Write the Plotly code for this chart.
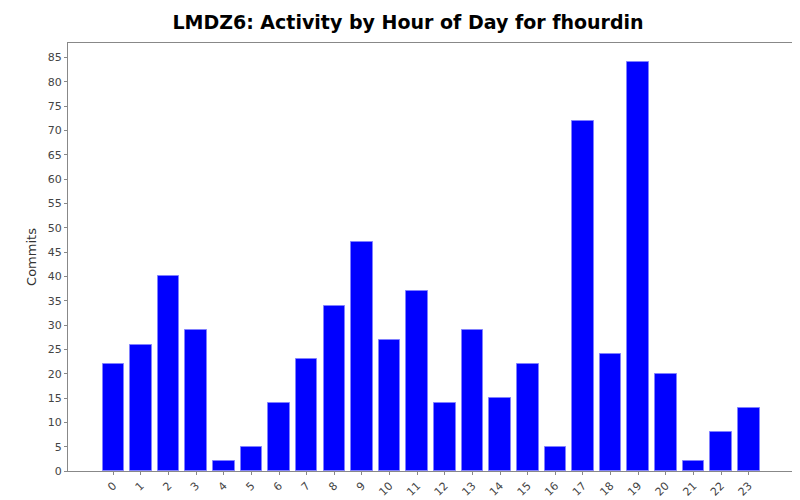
import plotly.graph_objects as go

hours = [str(h) for h in range(24)]
commits = [22, 26, 40, 29, 2, 5, 14, 23, 34, 47, 27, 37, 14, 29, 15, 22, 5, 72, 24, 84, 20, 2, 8, 13]

fig = go.Figure(go.Bar(
    x=list(range(24)), y=commits, width=0.78,
    marker=dict(color="#0000ff", line=dict(color="#8080ff", width=1)),
))
fig.update_layout(
    width=800, height=500,
    paper_bgcolor="white", plot_bgcolor="white",
    margin=dict(l=60, r=12, t=35, b=37, autoexpand=False),
    title=dict(text="<b>LMDZ6: Activity by Hour of Day for fhourdin</b>", x=0.5, y=0.972,
               xanchor="center", yanchor="middle", font=dict(family="DejaVu Sans", size=19, color="black")),
    font=dict(family="DejaVu Sans", size=11, color="#444"),
    showlegend=False, bargap=0,
)
fig.update_xaxes(range=[-1.64, 24.71], tickvals=list(range(24)), ticktext=hours, automargin=False,
                 tickangle=-45, showgrid=False, showline=True, linecolor="#888", mirror=True,
                 ticks="outside", ticklen=3, tickcolor="#888", zeroline=False)
fig.update_yaxes(range=[0, 88], dtick=5, automargin=False,
                 title=dict(text="Commits", font=dict(size=13, color="#333"), standoff=8),
                 showgrid=False, showline=True, linecolor="#888", mirror=True,
                 ticks="outside", ticklen=3, tickcolor="#888", zeroline=False)
fig.write_html("out.html")
